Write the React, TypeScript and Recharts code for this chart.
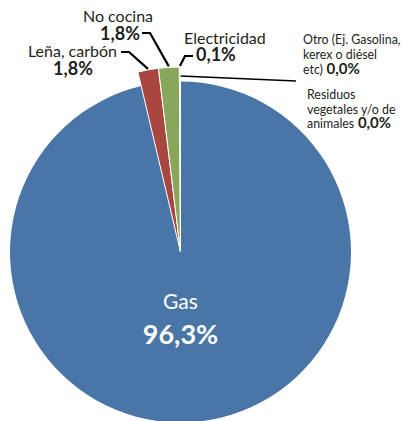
import { PieChart, Pie, Cell } from 'recharts'

const categories = [
  'Gas',
  'Leña, carbón',
  'No cocina',
  'Electricidad',
  'Otro (Ej. Gasolina, kerex o diésel etc)',
  'Residuos vegetales y/o de animales',
]
const shares = [96.3, 1.8, 1.8, 0.1, 0.0, 0.0]
const colors = ['#4976a7', '#a8463f', '#88a75b', '#8a7db2', '#8a7db2', '#8a7db2']
// label text split into the lines used in the original
const labelLines = [
  ['Gas'],
  ['Leña, carbón'],
  ['No cocina'],
  ['Electricidad'],
  ['Otro (Ej. Gasolina,', 'kerex o diésel', 'etc)'],
  ['Residuos', 'vegetales y/o de', 'animales'],
]

const data = categories.map((name, i) => ({ name, value: shares[i] }))

const FONT = 'Lato, "Noto Sans", sans-serif'
const INK = '#231f20'
const RAD = Math.PI / 180

const fmt = (v: number) => v.toFixed(1).replace('.', ',') + '%'

// where each outside label sits; leader = elbow points before the slice tip
const layout: Record<number, any> = {
  1: { nx: 117, ny: 57, nAnchor: 'end', vx: 73, vy: 75, vAnchor: 'middle', leader: [[121, 52], [129, 52]] },
  2: { nx: 118, ny: 22, nAnchor: 'middle', vx: 120, vy: 40, vAnchor: 'middle', leader: [[142, 33], [150, 33]] },
  3: { nx: 184, ny: 44, nAnchor: 'start', vx: 196, vy: 61, vAnchor: 'start', leader: [[193, 56], [185, 56]] },
  4: { x: 303, y: 44, lh: 15, line: [296, 81] },
  5: { x: 307, y: 99, lh: 14.5 },
}

function tip(p: any, r: number) {
  return [p.cx + r * Math.cos(-p.midAngle * RAD), p.cy + r * Math.sin(-p.midAngle * RAD)]
}

function InnerLabel(p: any) {
  if (p.index !== 0) return null
  return (
    <g fontFamily={FONT} fill="#fff" textAnchor="middle">
      <text x={p.cx} y={p.cy + 57} fontSize={21} fill="#fff">
        {labelLines[0][0]}
      </text>
      <text x={p.cx} y={p.cy + 92} fontSize={27} fontWeight="bold" fill="#fff">
        {fmt(shares[0])}
      </text>
    </g>
  )
}

function OuterLabel(p: any) {
  const i = p.index
  const l = layout[i]
  if (!l) return null
  const lines = labelLines[i]
  if (i <= 3) {
    const [tx, ty] = tip(p, p.outerRadius + 1)
    const pts = [...l.leader, [tx, ty]].map((q: number[]) => q.join(',')).join(' ')
    return (
      <g fontFamily={FONT}>
        <polyline points={pts} fill="none" stroke="#000" strokeWidth={2.2} />
        <text x={l.nx} y={l.ny} fontSize={16} fill={INK} textAnchor={l.nAnchor}>
          {lines[0]}
        </text>
        <text x={l.vx} y={l.vy} fontSize={18} fontWeight="bold" fill={INK} textAnchor={l.vAnchor}>
          {fmt(shares[i])}
        </text>
      </g>
    )
  }
  const start = tip(p, p.outerRadius - 9)
  return (
    <g fontFamily={FONT}>
      {l.line && (
        <line x1={start[0]} y1={start[1]} x2={l.line[0]} y2={l.line[1]} stroke="#000" strokeWidth={1.6} />
      )}
      {lines.map((t, k) => (
        <text key={k} x={l.x} y={l.y + k * l.lh} fontSize={12.4} fill={INK}>
          {t}
          {k === lines.length - 1 && (
            <tspan fontWeight="bold" fontSize={15}>
              {' ' + fmt(shares[i])}
            </tspan>
          )}
        </text>
      ))}
    </g>
  )
}

export default function App() {
  return (
    <div style={{ position: 'absolute', left: 0, top: 0, width: 402, height: 421, background: '#fff' }}>
      <PieChart width={402} height={421} margin={{ top: 0, right: 0, bottom: 0, left: 0 }}>
        <Pie
          data={data}
          dataKey="value"
          cx={180.5}
          cy={252}
          outerRadius={170.5}
          startAngle={90}
          endAngle={-270}
          stroke="none"
          label={InnerLabel}
          labelLine={false}
          isAnimationActive={false}
        >
          {data.map((d, i) => (
            <Cell key={d.name} fill={i === 0 ? colors[0] : 'none'} />
          ))}
        </Pie>
        <Pie
          data={data}
          dataKey="value"
          cx={180.5}
          cy={252}
          outerRadius={185}
          startAngle={90}
          endAngle={-270}
          stroke="#fff"
          strokeWidth={1}
          label={OuterLabel}
          labelLine={false}
          isAnimationActive={false}
        >
          {data.map((d, i) => (
            <Cell key={d.name} fill={i === 0 ? 'none' : colors[i]} stroke={i === 0 ? 'none' : '#fff'} />
          ))}
        </Pie>
      </PieChart>
    </div>
  )
}
